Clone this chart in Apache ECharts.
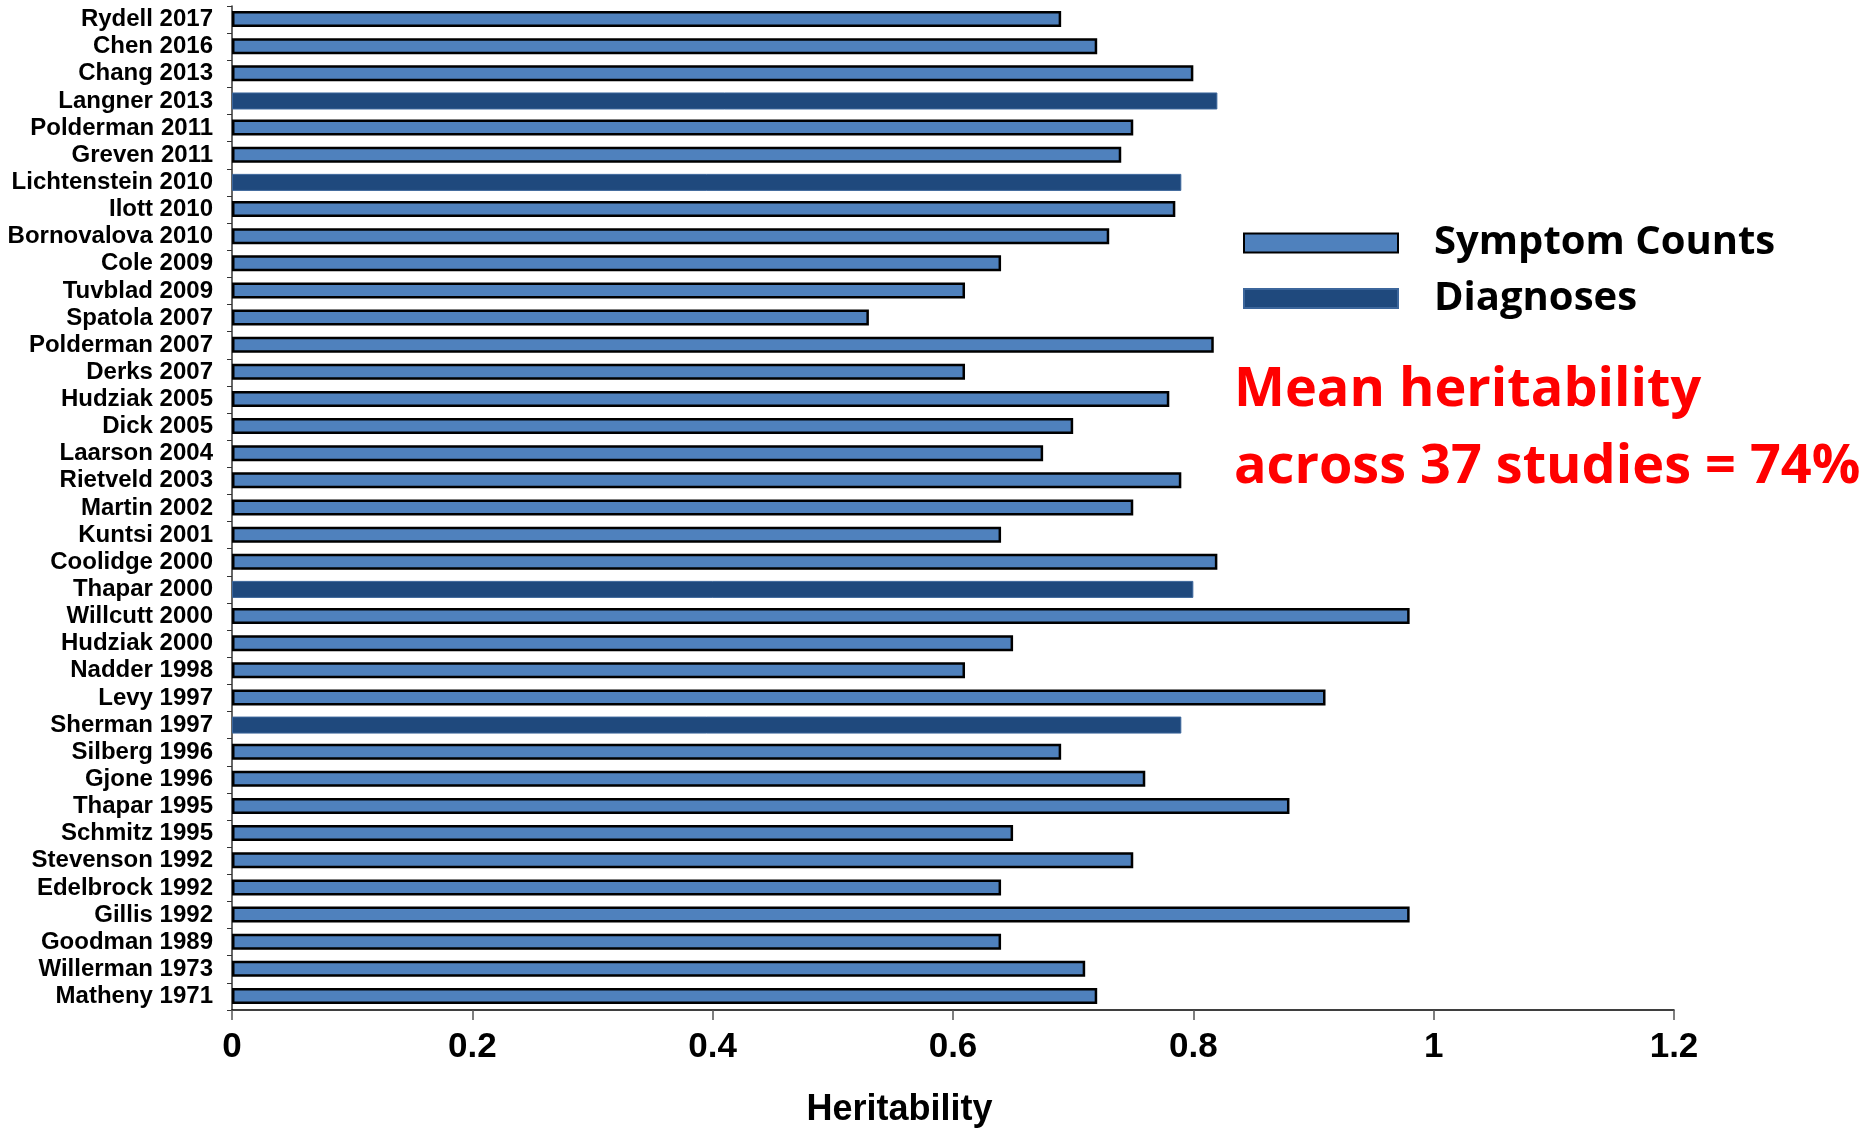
<!DOCTYPE html>
<html>
<head>
<meta charset="utf-8">
<title>Heritability</title>
<script src="https://cdn.jsdelivr.net/npm/echarts@6/dist/echarts.min.js"></script>
<style>
  html, body { margin: 0; padding: 0; background: #ffffff; }
  #chart { width: 1860px; height: 1128px; }
</style>
</head>
<body>
<div id="chart"></div>
<script>
// Twin / family studies, newest first
const studies = [
  'Rydell 2017', 'Chen 2016', 'Chang 2013', 'Langner 2013', 'Polderman 2011',
  'Greven 2011', 'Lichtenstein 2010', 'Ilott 2010', 'Bornovalova 2010', 'Cole 2009',
  'Tuvblad 2009', 'Spatola 2007', 'Polderman 2007', 'Derks 2007', 'Hudziak 2005',
  'Dick 2005', 'Laarson 2004', 'Rietveld 2003', 'Martin 2002', 'Kuntsi 2001',
  'Coolidge 2000', 'Thapar 2000', 'Willcutt 2000', 'Hudziak 2000', 'Nadder 1998',
  'Levy 1997', 'Sherman 1997', 'Silberg 1996', 'Gjone 1996', 'Thapar 1995',
  'Schmitz 1995', 'Stevenson 1992', 'Edelbrock 1992', 'Gillis 1992', 'Goodman 1989',
  'Willerman 1973', 'Matheny 1971'
];

// Heritability estimate per study
const heritability = [
  0.69, 0.72, 0.80, 0.82, 0.75,
  0.74, 0.79, 0.785, 0.73, 0.64,
  0.61, 0.53, 0.817, 0.61, 0.78,
  0.70, 0.675, 0.79, 0.75, 0.64,
  0.82, 0.80, 0.98, 0.65, 0.61,
  0.91, 0.79, 0.69, 0.76, 0.88,
  0.65, 0.75, 0.64, 0.98, 0.64,
  0.71, 0.72
];

// Measure used: 'S' = symptom counts, 'D' = diagnoses
const measure = [
  'S', 'S', 'S', 'D', 'S',
  'S', 'D', 'S', 'S', 'S',
  'S', 'S', 'S', 'S', 'S',
  'S', 'S', 'S', 'S', 'S',
  'S', 'D', 'S', 'S', 'S',
  'S', 'D', 'S', 'S', 'S',
  'S', 'S', 'S', 'S', 'S',
  'S', 'S'
];

const xTicks = [0, 0.2, 0.4, 0.6, 0.8, 1, 1.2];
const seriesNames = ['Symptom Counts', 'Diagnoses'];
const noteLines = ['Mean heritability', 'across 37 studies = 74%'];

const symptomData = heritability.map((v, i) => (measure[i] === 'S' ? v : '-'));
const diagnosisData = heritability.map((v, i) => (measure[i] === 'D' ? v : '-'));

const chart = echarts.init(document.getElementById('chart'), null, { renderer: 'canvas' });

const labelFont = '"Liberation Sans", Arial, Helvetica, sans-serif';
const calloutFont = '"Open Sans", "Noto Sans", sans-serif';

chart.setOption({
  backgroundColor: '#ffffff',
  animation: false,
  title: {
    text: noteLines.join('\n'),
    left: 1234,
    top: 352,
    padding: 0,
    textStyle: {
      color: '#ff0000',
      fontFamily: calloutFont,
      fontWeight: 'bold',
      fontSize: 54,
      lineHeight: 77
    }
  },
  legend: {
    data: seriesNames,
    orient: 'vertical',
    left: 1243,
    top: 223,
    padding: 0,
    itemWidth: 154,
    itemHeight: 19,
    itemGap: 15.5,
    icon: 'rect',
    textStyle: {
      color: '#000000',
      fontFamily: calloutFont,
      fontWeight: 'bold',
      fontSize: 40,
      lineHeight: 40,
      padding: [0, 0, 0, 31]
    }
  },
  grid: {
    left: 232,
    right: 186,
    top: 6,
    bottom: 118,
    containLabel: false,
    outerBoundsMode: 'none'
  },
  xAxis: {
    type: 'value',
    min: 0,
    max: 1.2,
    interval: 0.2,
    name: 'Heritability',
    nameLocation: 'middle',
    nameGap: 82,
    nameTextStyle: {
      color: '#000000',
      fontFamily: labelFont,
      fontWeight: 'bold',
      fontSize: 36,
      padding: [0, 107, 0, 0]
    },
    axisLine: { show: true, lineStyle: { color: '#000000', width: 1.5 } },
    axisTick: { show: true, length: 10, lineStyle: { color: '#555555', width: 1.5 } },
    splitLine: { show: false },
    axisLabel: {
      color: '#000000',
      fontFamily: labelFont,
      fontWeight: 'bold',
      fontSize: 35,
      margin: 20,
      formatter: (v) => {
        const t = xTicks.find((x) => Math.abs(x - v) < 1e-9);
        return t === undefined ? '' : String(t);
      }
    }
  },
  yAxis: {
    type: 'category',
    data: studies,
    inverse: true,
    axisLine: { show: true, lineStyle: { color: '#333333', width: 1.5 } },
    axisTick: { show: true, interval: 0, length: 5, alignWithLabel: false, lineStyle: { color: '#333333', width: 1 } },
    splitLine: { show: false },
    axisLabel: {
      interval: 0,
      color: '#000000',
      fontFamily: labelFont,
      fontWeight: 'bold',
      fontSize: 24,
      margin: 19
    }
  },
  series: [
    {
      name: seriesNames[0],
      type: 'bar',
      data: symptomData,
      barWidth: 16,
      barGap: '-100%',
      itemStyle: { color: '#4f81bd', borderColor: '#000000', borderWidth: 2.5 }
    },
    {
      name: seriesNames[1],
      type: 'bar',
      data: diagnosisData,
      barWidth: 17,
      barGap: '-100%',
      itemStyle: { color: '#1f497d', borderColor: '#3c669b', borderWidth: 1 }
    }
  ]
});
</script>
</body>
</html>
